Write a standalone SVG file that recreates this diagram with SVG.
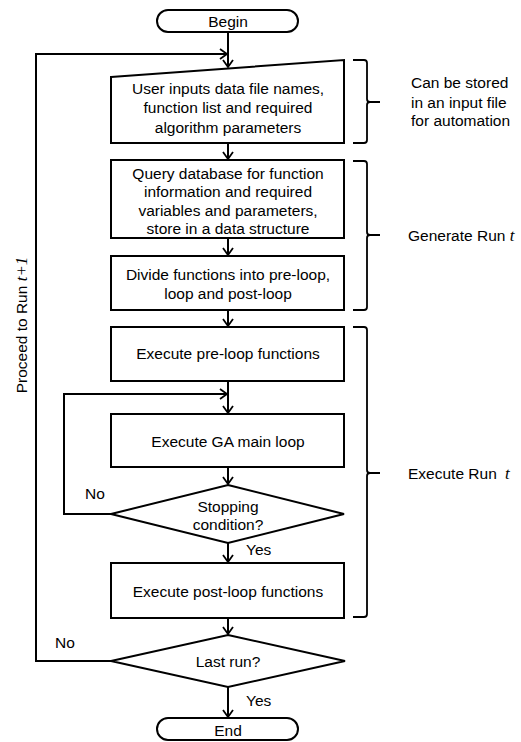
<svg xmlns="http://www.w3.org/2000/svg" width="521" height="742" viewBox="0 0 521 742">
<defs>
<style>
.n{fill:#fff;stroke:#000;stroke-width:2}
.c{fill:none;stroke:#000;stroke-width:2}
.b{fill:none;stroke:#000;stroke-width:1.8}
text{font-family:"Liberation Sans",Arial,sans-serif;font-size:15.5px;fill:#000}
.m{text-anchor:middle}
.i{font-family:"Liberation Serif","Times New Roman",serif;font-style:italic;font-size:17px}
</style>
<marker id="a" viewBox="0 0 12 12" refX="10" refY="6" markerWidth="12" markerHeight="12" markerUnits="userSpaceOnUse" orient="auto">
<path d="M3,1 L10,6 L3,11" fill="none" stroke="#000" stroke-width="1.8"/>
</marker>
</defs>
<rect width="521" height="742" fill="#fff"/>
<g id="connectors">
<path class="c" d="M228,32 V67" marker-end="url(#a)"/>
<path class="c" d="M111,661 H36 V54 H227" marker-end="url(#a)"/>
<path class="c" d="M228,143 V159" marker-end="url(#a)"/>
<path class="c" d="M228,238 V255" marker-end="url(#a)"/>
<path class="c" d="M228,310 V326" marker-end="url(#a)"/>
<path class="c" d="M228,381 V413" marker-end="url(#a)"/>
<path class="c" d="M111,514 H64 V394 H227" marker-end="url(#a)"/>
<path class="c" d="M228,467 V484" marker-end="url(#a)"/>
<path class="c" d="M228,543 V562" marker-end="url(#a)"/>
<path class="c" d="M228,618 V634" marker-end="url(#a)"/>
<path class="c" d="M228,687 V717" marker-end="url(#a)"/>
</g>
<g id="begin">
<rect class="n" x="157" y="10" width="141" height="22" rx="11"/>
<text class="m" x="228" y="26.5">Begin</text>
</g>
<g id="input">
<polygon class="n" points="111,77 344,60 344,143 111,143"/>
<text class="m" x="228" y="93.5">User inputs data file names,</text>
<text class="m" x="228" y="112.5">function list and required</text>
<text class="m" x="228" y="132.5">algorithm parameters</text>
</g>
<g id="query">
<rect class="n" x="111" y="160" width="233" height="78"/>
<text class="m" x="228" y="178.5">Query database for function</text>
<text class="m" x="228" y="197">information and required</text>
<text class="m" x="228" y="215.5">variables and parameters,</text>
<text class="m" x="228" y="234">store in a data structure</text>
</g>
<g id="divide">
<rect class="n" x="111" y="256" width="233" height="54"/>
<text class="m" x="228" y="279.5">Divide functions into pre-loop,</text>
<text class="m" x="228" y="298.5">loop and post-loop</text>
</g>
<g id="preloop">
<rect class="n" x="111" y="327" width="233" height="54"/>
<text class="m" x="228" y="358.5">Execute pre-loop functions</text>
</g>
<g id="mainloop">
<rect class="n" x="111" y="414" width="233" height="53"/>
<text class="m" x="228" y="446.5">Execute GA main loop</text>
</g>
<g id="stopping">
<polygon class="n" points="228,485 344,514 228,543 111,514"/>
<text class="m" x="228" y="511.5">Stopping</text>
<text class="m" x="228" y="529.5">condition?</text>
</g>
<g id="postloop">
<rect class="n" x="111" y="563" width="233" height="55"/>
<text class="m" x="228" y="596.5">Execute post-loop functions</text>
</g>
<g id="lastrun">
<polygon class="n" points="228,635 345,661 228,687 111,661"/>
<text class="m" x="228" y="666.5">Last run?</text>
</g>
<g id="end">
<rect class="n" x="157" y="718" width="141" height="22" rx="11"/>
<text class="m" x="228" y="735.5">End</text>
</g>
<g id="labels">
<text x="85" y="498.5">No</text>
<text x="246" y="554.5">Yes</text>
<text x="55" y="647.5">No</text>
<text x="246" y="705.5">Yes</text>
<text transform="translate(27,325) rotate(-90)" class="m">Proceed to Run <tspan class="i">t+1</tspan></text>
</g>
<g id="brackets">
<path class="b" d="M353,60 H364 Q367,60 367,63 V99 Q367,102 370,102 H380 M370,102 Q367,102 367,105 V140 Q367,143 364,143 H353"/>
<path class="b" d="M353,161 H364 Q367,161 367,164 V232 Q367,235 370,235 H380 M370,235 Q367,235 367,238 V307 Q367,310 364,310 H353"/>
<path class="b" d="M353,327 H364 Q367,327 367,330 V470 Q367,473 370,473 H380 M370,473 Q367,473 367,476 V614 Q367,617 364,617 H353"/>
</g>
<g id="notes">
<text x="411" y="87.5">Can be stored</text>
<text x="411" y="107.5">in an input file</text>
<text x="411" y="125.5">for automation</text>
<text x="408" y="240.5">Generate Run <tspan class="i">t</tspan></text>
<text x="408" y="478.5">Execute Run <tspan class="i" dx="4">t</tspan></text>
</g>
</svg>
